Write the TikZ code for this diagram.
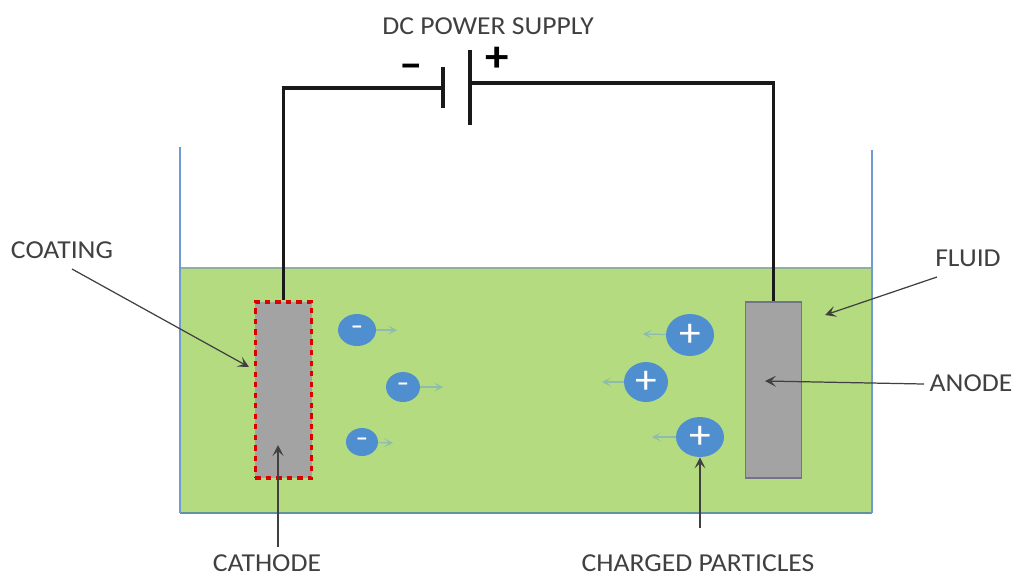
\documentclass[tikz,border=0pt]{standalone}
\usepackage{fontspec}
\setmainfont[FakeStretch=1.07]{Carlito}
\usetikzlibrary{shapes.geometric, arrows.meta}
\definecolor{fluidgreen}{HTML}{B4DB80}
\definecolor{wallblue}{HTML}{6F9BD0}
\definecolor{rimgrey}{HTML}{8FB09A}
\definecolor{basegrey}{HTML}{5F93A0}
\definecolor{plategrey}{HTML}{A3A3A3}
\definecolor{ionblue}{HTML}{4F8FD0}
\definecolor{driftcol}{HTML}{8DBBAE}
\definecolor{labelgrey}{HTML}{404040}
\tikzset{
	wire/.style = {line width=2pt, black!90},
	leader/.style = {-{Stealth[length=2.2mm, width=2.2mm, inset=1mm]}, line width=0.7pt, black!75},
	drift/.style = {-{Stealth[length=1.8mm, width=1.8mm, inset=1mm]}, line width=0.7pt, driftcol},
	tag/.style = {text=labelgrey, font=\fontsize{14.7}{16}\selectfont, inner sep=0pt},
	ion/.style = {ellipse, fill=ionblue, text=white, inner sep=0pt, font=\fontsize{13}{14}\selectfont\bfseries},
	bigion/.style = {ion, font=\fontsize{23}{24}\selectfont},
	polarity/.style = {text=black, inner sep=0pt, font=\fontsize{25}{26}\selectfont\bfseries},
	electrode/.style = {rectangle, fill=plategrey, minimum width=1.13cm, minimum height=3.52cm, inner sep=0pt}
}
\begin{document}
\begin{tikzpicture}[x=0.02cm, y=-0.02cm]
	\useasboundingbox (0,0) rectangle (1016,576);
	% tank and fluid
	\fill[fluidgreen] (180,268) rectangle (872,513);
	\draw[rimgrey, line width=0.8pt] (180,268) -- (872,268);
	\draw[basegrey, line width=1pt] (180,513) -- (872,513);
	\draw[wallblue, line width=0.9pt] (180,147) -- (180,513);
	\draw[wallblue, line width=1.2pt] (872,150) -- (872,513);
	% electrodes
	\node[electrode, draw=red!85!black, dashed, line width=1.8pt] (cathode) at (283.5,390) {};
	\node[electrode, draw=gray!90!blue, line width=0.7pt] (anode) at (773.5,390) {};
	% power supply
	\coordinate (negtop) at (443,67);
	\coordinate (negbot) at (443,108);
	\coordinate (negmid) at (443,88);
	\coordinate (postop) at (470,50);
	\coordinate (posbot) at (470,125);
	\coordinate (posmid) at (470,83);
	\draw[wire] (negtop) -- (negbot);
	\draw[wire] (postop) -- (posbot);
	\draw[wire] (cathode.north) |- (negmid);
	\draw[wire] (posmid) -| (anode.north);
	\node[polarity] (minus) at (411,71) {–};
	\node[polarity] (plus) at (497,59) {+};
	\node[tag] (supply) at (488,26) {DC POWER SUPPLY};
	% charged particles
	\node[ion, minimum width=0.76cm, minimum height=0.64cm] (nega) at (357,330) {–};
	\node[ion, minimum width=0.68cm, minimum height=0.60cm] (negb) at (403,387) {–};
	\node[ion, minimum width=0.64cm, minimum height=0.56cm] (negc) at (362,442) {–};
	\node[bigion, minimum width=0.96cm, minimum height=0.84cm] (posa) at (690,335) {+};
	\node[bigion, minimum width=0.88cm, minimum height=0.80cm] (posb) at (646,382) {+};
	\node[bigion, minimum width=0.96cm, minimum height=0.80cm] (posc) at (700,437) {+};
	\coordinate (driftna) at (397,330);
	\coordinate (driftnb) at (443,387);
	\coordinate (driftnc) at (393,443);
	\coordinate (driftpa) at (643,334);
	\coordinate (driftpb) at (602,382);
	\coordinate (driftpc) at (652,437);
	\draw[drift] (nega) -- (driftna);
	\draw[drift] (negb) -- (driftnb);
	\draw[drift] (negc) -- (driftnc);
	\draw[drift] (posa) -- (driftpa);
	\draw[drift] (posb) -- (driftpb);
	\draw[drift] (posc) -- (driftpc);
	% labels
	\node[tag] (coating) at (62,250) {COATING};
	\node[tag] (cathodetag) at (267,563) {CATHODE};
	\node[tag] (fluid) at (968,258) {FLUID};
	\node[tag] (anodetag) at (971,383) {ANODE};
	\node[tag] (chargedtag) at (698,563) {CHARGED PARTICLES};
	\coordinate (coatingtip) at (249,367);
	\coordinate (coatingtail) at (72,269);
	\coordinate (cathodetip) at (278,445);
	\coordinate (cathodetail) at (278,547);
	\coordinate (fluidtip) at (825,315);
	\coordinate (fluidtail) at (937,277);
	\coordinate (anodetip) at (765,381);
	\coordinate (anodetail) at (924,384);
	\coordinate (chargedtail) at (700,528);
	\draw[leader] (coatingtail) -- (coatingtip);
	\draw[leader] (cathodetail) -- (cathodetip);
	\draw[leader] (fluidtail) -- (fluidtip);
	\draw[leader] (anodetail) -- (anodetip);
	\draw[leader] (chargedtail) -- (posc.south);
\end{tikzpicture}
\end{document}
